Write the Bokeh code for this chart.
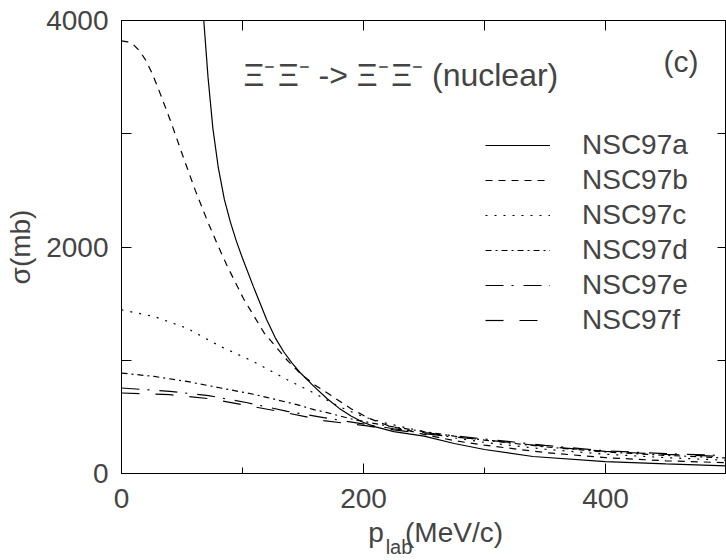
import math
from bokeh.plotting import figure
from bokeh.models import (FixedTicker, LinearAxis, Legend, LegendItem, Label, Range1d)
from bokeh.embed import file_html
from bokeh.resources import INLINE

# ---- data ----
xa = [55, 60, 64, 68, 71.5, 75.5, 80, 85, 90, 95, 100, 109, 120, 127, 134, 141, 148, 159, 170, 180, 190, 200, 210, 225, 250, 275, 300, 340, 400, 450, 500]
ya = [6500, 5300, 4600, 4000, 3500, 3050, 2700, 2420, 2220, 2050, 1900, 1650, 1357, 1200, 1075, 975, 887, 769, 660, 575, 505, 450, 412, 370, 330, 265, 212, 150, 105, 85, 68]

xb = [0, 5, 10, 15, 20, 25, 30, 35, 41, 50, 61, 71, 79, 87, 101, 118, 137, 148, 160, 173, 190, 205, 220, 250, 275, 300, 350, 400, 450, 500]
yb = [3820, 3812, 3785, 3730, 3650, 3540, 3410, 3270, 3100, 2825, 2500, 2230, 2030, 1840, 1540, 1240, 1000, 880, 780, 690, 570, 485, 425, 345, 290, 250, 185, 140, 112, 95]

xc = [0, 27, 54, 82, 109, 137, 159, 180, 200, 220, 250, 275, 300, 350, 400, 450, 500]
yc = [1445, 1386, 1283, 1121, 989, 828, 711, 590, 500, 440, 370, 315, 275, 215, 170, 140, 117]

xd = [0, 27, 54, 82, 109, 120, 145, 159, 170, 192, 220, 250, 275, 300, 350, 400, 450, 500]
yd = [887, 857, 813, 755, 700, 672, 608, 564, 537, 476, 420, 370, 330, 295, 235, 190, 160, 137]

xef = [0, 40, 72, 104, 137, 167, 203, 225, 250, 275, 300, 350, 400, 450, 500]
ye = [755, 725, 688, 625, 549, 493, 432, 395, 362, 332, 305, 248, 200, 175, 158]
yf = [711, 696, 661, 600, 535, 467, 420, 385, 352, 322, 298, 240, 195, 168, 150]

series_names = ["NSC97a", "NSC97b", "NSC97c", "NSC97d", "NSC97e", "NSC97f"]
x_ticks = [0, 200, 400]
x_minor = [100, 300, 500]
y_ticks = [0, 1000, 2000, 3000, 4000]
y_hidden = [1000, 3000]

FONT = "Liberation Sans"
NB = "\u00a0"
TH = "\u2009"
HS = "\u200a"

p = figure(width=726, height=560, output_backend="svg", toolbar_location=None,
           x_range=Range1d(0, 500), y_range=Range1d(0, 4000),
           min_border_left=121, min_border_right=0, min_border_top=20, min_border_bottom=86,
           x_axis_location=None, y_axis_location=None)
p.grid.visible = False
p.background_fill_color = "white"
p.border_fill_color = "white"
p.outline_line_color = "black"
p.outline_line_width = 1

# bottom axis with main part of label
xb_ax = LinearAxis(ticker=FixedTicker(ticks=x_ticks, minor_ticks=x_minor))
xb_ax.major_tick_in = 10
xb_ax.major_tick_out = 0
xb_ax.minor_tick_in = 6
xb_ax.minor_tick_out = 0
xb_ax.major_label_text_font = FONT
xb_ax.major_label_text_font_size = "28px"
xb_ax.major_label_standoff = 15
xb_ax.axis_label = NB * 3 + "p" + NB * 2 + TH + "(MeV/c)"
xb_ax.axis_label_text_font = FONT
xb_ax.axis_label_text_font_size = "28px"
xb_ax.axis_label_text_font_style = "normal"
xb_ax.axis_label_standoff = 6
p.add_layout(xb_ax, "below")

# second bottom "axis" carrying only the subscript
xs_ax = LinearAxis(ticker=FixedTicker(ticks=[], minor_ticks=[]))
xs_ax.axis_line_color = None
xs_ax.major_tick_line_color = None
xs_ax.minor_tick_line_color = None
xs_ax.axis_label = "lab" + NB * 9
xs_ax.axis_label_text_font = FONT
xs_ax.axis_label_text_font_size = "20px"
xs_ax.axis_label_text_font_style = "normal"
xs_ax.axis_label_standoff = -15
p.add_layout(xs_ax, "below")

# left axis
yl_ax = LinearAxis(ticker=FixedTicker(ticks=y_ticks, minor_ticks=[]))
yl_ax.major_tick_in = 10
yl_ax.major_tick_out = 0
yl_ax.major_label_overrides = {t: "" for t in y_hidden}
yl_ax.major_label_text_font = FONT
yl_ax.major_label_text_font_size = "28px"
yl_ax.major_label_standoff = 13
yl_ax.axis_label = "σ(mb)"
yl_ax.axis_label_text_font = FONT
yl_ax.axis_label_text_font_size = "28px"
yl_ax.axis_label_text_font_style = "normal"
yl_ax.axis_label_standoff = 7
p.add_layout(yl_ax, "left")

# top axis (ticks only)
top_ticks = sorted(x_ticks + x_minor)
xt_ax = LinearAxis(ticker=FixedTicker(ticks=top_ticks, minor_ticks=[]))
xt_ax.major_tick_in = 10
xt_ax.major_tick_out = 0
xt_ax.major_label_overrides = {t: "" for t in top_ticks}
xt_ax.major_label_text_font_size = "0px"
xt_ax.major_label_standoff = 0
p.add_layout(xt_ax, "above")

# right axis (ticks only)
yr_ax = LinearAxis(ticker=FixedTicker(ticks=y_ticks, minor_ticks=[]))
yr_ax.major_tick_in = 9
yr_ax.major_tick_out = 0
yr_ax.major_label_overrides = {t: "" for t in y_ticks}
yr_ax.major_label_text_font_size = "0px"
yr_ax.major_label_standoff = 0
p.add_layout(yr_ax, "right")

styles = [
    dict(line_dash="solid", line_width=1.2),
    dict(line_dash="7 6", line_width=1.2),
    dict(line_dash="2 7", line_width=1.2),
    dict(line_dash="6 4 2 4", line_width=1.2),
    dict(line_dash="18 8 2 10", line_width=1.2),
    dict(line_dash="18 16", line_width=1.2),
]
data = [(xa, ya), (xb, yb), (xc, yc), (xd, yd), (xef, ye), (xef, yf)]
renderers = []
for (xs, ys), st in zip(data, styles):
    r = p.line(xs, ys, line_color="black", **st)
    renderers.append(r)

legend = Legend(items=[LegendItem(label=n, renderers=[r]) for n, r in zip(series_names, renderers)],
                location=(364, 137))
legend.glyph_width = 65
legend.glyph_height = 30
legend.label_height = 30
legend.label_standoff = 32
legend.spacing = 3
legend.padding = 0
legend.margin = 0
legend.border_line_color = None
legend.background_fill_alpha = 0
legend.label_text_font = FONT
legend.label_text_font_size = "28px"
p.add_layout(legend, "center")

# texts inside the frame
p.add_layout(Label(x=100.8, y=3516, text="Ξ⁻" + HS + "Ξ⁻ -> Ξ⁻" + HS + "Ξ⁻ (nuclear)", text_font=FONT,
                   text_font_size="32px", text_baseline="alphabetic", text_align="left"))
p.add_layout(Label(x=448, y=3636, text="(c)", text_font=FONT,
                   text_font_size="30px", text_baseline="alphabetic", text_align="left"))

open("out.html", "w").write(file_html(p, INLINE))
